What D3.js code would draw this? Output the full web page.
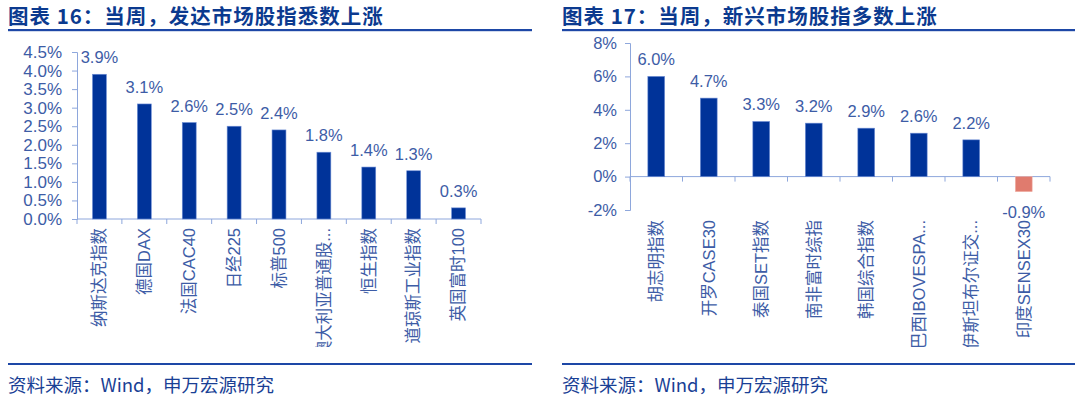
<!DOCTYPE html>
<html>
<head>
<meta charset="utf-8">
<script src="https://cdn.jsdelivr.net/npm/d3@7"></script>
<style>
  body { margin: 0; background: #fff; }
  svg { display: block; }
  text { font-family: "Liberation Sans", "Noto Sans CJK SC", sans-serif; }
</style>
</head>
<body>
<svg id="chart" width="1080" height="397"></svg>
<script>
// chart 16: developed markets
const devTitle = '图表 16：当周，发达市场股指悉数上涨';
const devNames = ['纳斯达克指数', '德国DAX', '法国CAC40', '日经225', '标普500', '澳大利亚普通股...', '恒生指数', '道琼斯工业指数', '英国富时100'];
const devValues = [3.9, 3.1, 2.6, 2.5, 2.4, 1.8, 1.4, 1.3, 0.3];
const devTicks = [0, 0.5, 1, 1.5, 2, 2.5, 3, 3.5, 4, 4.5];

// chart 17: emerging markets
const emTitle = '图表 17：当周，新兴市场股指多数上涨';
const emNames = ['胡志明指数', '开罗CASE30', '泰国SET指数', '南非富时综指', '韩国综合指数', '巴西IBOVESPA...', '伊斯坦布尔证交...', '印度SENSEX30'];
const emValues = [6.0, 4.7, 3.3, 3.2, 2.9, 2.6, 2.2, -0.9];
const emTicks = [-2, 0, 2, 4, 6, 8];

const source = '资料来源：Wind，申万宏源研究';

const BLUE = '#003399';
const NEG = '#e07b6e';
const TEXT = '#3d5ca6';
const AXIS = '#8ea7dc';
const TITLE = '#0b3a8f';
const RULE = '#1d47a6';

const svg = d3.select('#chart');

function panel(opts) {
  const g = svg.append('g');
  const x0 = opts.left;

  g.append('text')
    .attr('x', x0).attr('y', 24)
    .attr('font-size', 20.5).attr('font-weight', 'bold')
    .attr('letter-spacing', 1)
    .attr('fill', TITLE)
    .style('font-family', '"Noto Sans CJK SC", sans-serif')
    .text(opts.title);
  g.append('rect')
    .attr('x', x0).attr('y', 29).attr('width', opts.width).attr('height', 2.2)
    .attr('fill', RULE);

  g.append('rect')
    .attr('x', x0).attr('y', 363).attr('width', opts.width).attr('height', 2)
    .attr('fill', RULE);
  g.append('text')
    .attr('x', x0).attr('y', 392)
    .attr('font-size', 18.5)
    .attr('fill', '#1a3f95')
    .style('font-family', '"Noto Sans CJK SC", sans-serif')
    .text(source);

  const x = d3.scaleBand()
    .domain(opts.names)
    .range(opts.xRange)
    .paddingInner(0).paddingOuter(0);

  const y = d3.scaleLinear()
    .domain(opts.yDomain)
    .range(opts.yRange);

  const yAxis = g.append('g')
    .attr('transform', `translate(${opts.xRange[0]},0)`)
    .call(d3.axisLeft(y).tickValues(opts.ticks).tickSize(5).tickPadding(opts.tickPad)
      .tickFormat(opts.fmt));
  yAxis.select('.domain').attr('stroke', AXIS);
  yAxis.selectAll('.tick line').attr('stroke', AXIS);
  yAxis.selectAll('.tick text')
    .attr('fill', TEXT).attr('font-size', opts.tickSize)
    .style('font-family', '"Liberation Sans", sans-serif');

  const zeroY = y(0);
  const xAxis = g.append('g')
    .attr('transform', `translate(0,${zeroY})`);
  xAxis.append('line')
    .attr('x1', opts.xRange[0]).attr('x2', opts.xRange[1])
    .attr('stroke', AXIS);
  xAxis.selectAll('.tk')
    .data(d3.range(opts.names.length + 1))
    .join('line')
    .attr('class', 'tk')
    .attr('x1', i => opts.xRange[0] + i * x.step())
    .attr('x2', i => opts.xRange[0] + i * x.step())
    .attr('y1', 0).attr('y2', 5)
    .attr('stroke', AXIS);

  const bw = x.step() * opts.barFrac;
  g.selectAll('.bar')
    .data(opts.values)
    .join('rect')
    .attr('class', 'bar')
    .attr('x', (d, i) => x(opts.names[i]) + (x.step() - bw) / 2)
    .attr('y', d => d >= 0 ? y(d) : zeroY)
    .attr('width', bw)
    .attr('height', d => Math.abs(y(d) - zeroY))
    .attr('fill', d => d >= 0 ? BLUE : NEG)
    .attr('stroke', d => d >= 0 ? '#6f8fd6' : '#f0b0a6')
    .attr('stroke-width', 0.6);

  g.selectAll('.val')
    .data(opts.values)
    .join('text')
    .attr('class', 'val')
    .attr('x', (d, i) => x(opts.names[i]) + x.step() / 2)
    .attr('y', d => d >= 0 ? y(d) - 11 : y(d) + 26)
    .attr('text-anchor', 'middle')
    .attr('font-size', 16.5)
    .attr('fill', TEXT)
    .text(d => d.toFixed(1) + '%');

  const clipId = 'clip' + opts.left;
  svg.append('clipPath').attr('id', clipId)
    .append('rect').attr('x', x0).attr('y', 0).attr('width', opts.width).attr('height', 347);

  g.append('g').attr('clip-path', `url(#${clipId})`)
    .selectAll('.cat')
    .data(opts.names)
    .join('text')
    .attr('class', 'cat')
    .attr('transform', d => `translate(${x(d) + x.step() / 2},${opts.labelTop}) rotate(-90)`)
    .attr('text-anchor', 'end')
    .attr('dy', '0.35em')
    .attr('font-size', 16.5)
    .attr('fill', TEXT)
    .style('font-family', '"Liberation Sans", "Noto Sans CJK SC", sans-serif')
    .text(d => d);
}

panel({
  left: 8, width: 524,
  title: devTitle, names: devNames, values: devValues, ticks: devTicks,
  xRange: [77, 481], yDomain: [0, 4.5], yRange: [219, 52],
  fmt: d => d.toFixed(1) + '%', barFrac: 0.31, labelTop: 228,
  tickSize: 17, tickPad: 10
});

panel({
  left: 562, width: 513,
  title: emTitle, names: emNames, values: emValues, ticks: emTicks,
  xRange: [630, 1050], yDomain: [-2, 8], yRange: [210, 43],
  fmt: d => d + '%', barFrac: 0.32, labelTop: 220,
  tickSize: 16.5, tickPad: 8
});
</script>
</body>
</html>
